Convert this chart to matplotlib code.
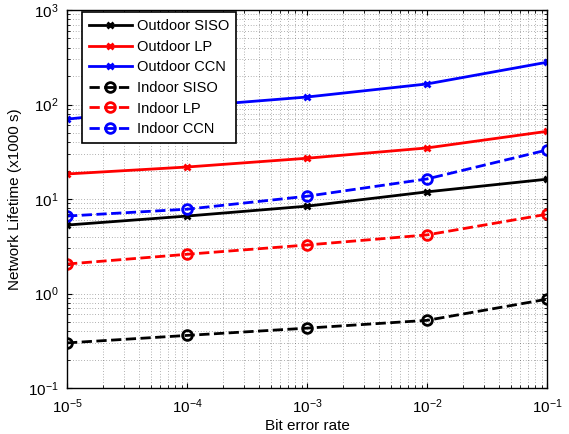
import numpy as np
import matplotlib.pyplot as plt

plt.rcParams['font.family'] = ['Liberation Sans', 'DejaVu Sans']
plt.rcParams['mathtext.fontset'] = 'custom'
plt.rcParams['mathtext.rm'] = 'Liberation Sans'

ber = [1e-5, 1e-4, 1e-3, 1e-2, 1e-1]

outdoor_siso = [5.3, 6.6, 8.4, 11.9, 16.2]
outdoor_lp = [18.4, 21.8, 27.0, 34.7, 52.0]
outdoor_ccn = [70.0, 95.0, 120.0, 165.0, 280.0]
indoor_siso = [0.30, 0.36, 0.43, 0.52, 0.87]
indoor_lp = [2.05, 2.6, 3.26, 4.17, 6.9]
indoor_ccn = [6.6, 7.8, 10.7, 16.3, 33.0]

fig = plt.figure(figsize=(5.69, 4.34), dpi=100)
ax = fig.add_axes([67 / 569, 1 - 388 / 434, 480 / 569, 378 / 434])

ax.plot(ber, outdoor_siso, '-x', color='k', lw=2, ms=5, mew=2, label='Outdoor SISO')
ax.plot(ber, outdoor_lp, '-x', color='r', lw=2, ms=5, mew=2, label='Outdoor LP')
ax.plot(ber, outdoor_ccn, '-x', color='b', lw=2, ms=5, mew=2, label='Outdoor CCN')
ax.plot(ber, indoor_siso, '--o', color='k', lw=2, ms=7, mew=2, mfc='none', label='Indoor SISO')
ax.plot(ber, indoor_lp, '--o', color='r', lw=2, ms=7, mew=2, mfc='none', label='Indoor LP')
ax.plot(ber, indoor_ccn, '--o', color='b', lw=2, ms=7, mew=2, mfc='none', label='Indoor CCN')

ax.set_xscale('log')
ax.set_yscale('log')
ax.set_xlim(1e-5, 1e-1)
ax.set_ylim(1e-1, 1e3)
ax.grid(True, which='both', color='k', linestyle=(0, (1, 3)), linewidth=0.5, alpha=0.6)
ax.tick_params(which='both', direction='in', top=True, right=True, labelsize=11)
ax.tick_params(axis='x', pad=7)
ax.tick_params(axis='y', pad=6)
for s in ax.spines.values():
    s.set_linewidth(1.0)

ax.set_xlabel('Bit error rate', fontsize=11, labelpad=2)
ax.set_ylabel('Network Lifetime (x1000 s)', fontsize=11, labelpad=4)

leg = ax.legend(loc='upper left', bbox_to_anchor=(15 / 480, 1 - 2 / 378), fontsize=10.5,
                fancybox=False, framealpha=1, edgecolor='k', handlelength=2.9,
                handletextpad=0.35, borderaxespad=0, borderpad=0.5, labelspacing=0.45)
leg.get_frame().set_linewidth(1.2)

fig.savefig('out.png', dpi=100)
